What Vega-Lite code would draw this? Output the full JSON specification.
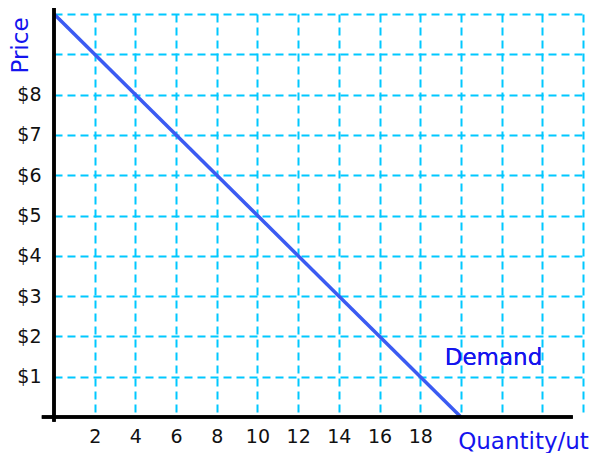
{
  "$schema": "https://vega.github.io/schema/vega-lite/v6.json",
  "width": 529,
  "height": 403,
  "autosize": "none",
  "padding": {"left": 54, "top": 14, "right": 15, "bottom": 36},
  "background": "white",
  "config": {"view": {"stroke": null}, "font": "DejaVu Sans"},
  "data": {"values": [{"quantity": 0, "price": 10}, {"quantity": 20, "price": 0}]},
  "layer": [
    {
      "mark": {"type": "line", "color": "#3b5bf2", "strokeWidth": 3.5},
      "encoding": {
        "x": {
          "field": "quantity", "type": "quantitative",
          "scale": {"domain": [0, 26], "nice": false, "zero": false},
          "axis": {
            "values": [2, 4, 6, 8, 10, 12, 14, 16, 18, 20, 22, 24, 26],
            "labelExpr": "datum.value <= 18 ? datum.label : ''",
            "domain": false, "ticks": false, "labelPadding": 10,
            "labelFontSize": 19, "labelColor": "#111", "labelFont": "DejaVu Sans",
            "grid": true, "gridColor": "#00c8ff", "gridDash": [8, 5], "gridWidth": 2, "gridOpacity": 1,
            "title": "Quantity/ut", "titleFont": "DejaVu Sans", "titleFontSize": 23, "titleFontWeight": "normal",
            "titleColor": "#1414ee", "titleX": 469, "titleY": 24, "titleAlign": "center", "titleBaseline": "middle"
          }
        },
        "y": {
          "field": "price", "type": "quantitative",
          "scale": {"domain": [0, 10], "nice": false, "zero": false},
          "axis": {
            "values": [1, 2, 3, 4, 5, 6, 7, 8, 9, 10],
            "labelExpr": "datum.value <= 8 ? '$' + datum.value : ''",
            "domain": false, "ticks": false, "labelPadding": 13,
            "labelFontSize": 19, "labelColor": "#111", "labelFont": "DejaVu Sans",
            "grid": true, "gridColor": "#00c8ff", "gridDash": [8, 5], "gridWidth": 2, "gridOpacity": 1,
            "title": "Price", "titleFont": "DejaVu Sans", "titleFontSize": 23, "titleFontWeight": "normal",
            "titleColor": "#1414ee", "titleX": -34, "titleY": 31, "titleAngle": -90, "titleAlign": "center", "titleBaseline": "middle"
          }
        }
      }
    },
    {
      "mark": {"type": "rule", "color": "black", "strokeWidth": 3.5},
      "encoding": {"x": {"datum": -0.6}, "x2": {"datum": 25.5}, "y": {"datum": 0}}
    },
    {
      "mark": {"type": "rule", "color": "black", "strokeWidth": 3.5},
      "encoding": {"x": {"datum": 0}, "y": {"datum": -0.12}, "y2": {"datum": 10.15}}
    },
    {
      "mark": {"type": "text", "color": "#1414ee", "fontSize": 23, "font": "DejaVu Sans", "align": "center", "baseline": "middle"},
      "encoding": {"x": {"datum": 21.6}, "y": {"datum": 1.46}, "text": {"value": "Demand"}}
    }
  ]
}
